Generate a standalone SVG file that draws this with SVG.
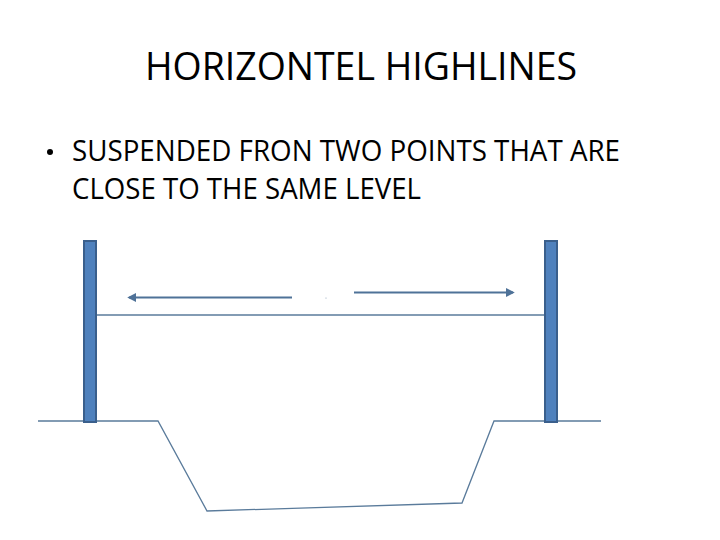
<svg xmlns="http://www.w3.org/2000/svg" width="720" height="540" viewBox="0 0 720 540">
<style>
.t{font-family:"Open Sans","Liberation Sans",sans-serif;fill:#000}
.pole{fill:#4f81bd;stroke:#3a5f8c;stroke-width:2}
.ln{fill:none;stroke:#5a7b9b;stroke-width:1.3}
.ar{fill:none;stroke:#4f7298;stroke-width:2.2}
</style>
<defs>
<marker id="ah" viewBox="0 0 10 10" refX="8" refY="5" markerWidth="4" markerHeight="4" orient="auto">
<path d="M0,0 L10,5 L0,10 z" fill="#4f7298"/>
</marker>
</defs>
<rect width="720" height="540" fill="#fff"/>
<text class="t" x="361" y="80" font-size="39" text-anchor="middle" textLength="432" lengthAdjust="spacingAndGlyphs">HORIZONTEL HIGHLINES</text>
<g id="bullet">
<circle cx="50" cy="152" r="3" fill="#000"/>
<text class="t" x="72" y="161" font-size="28.5" textLength="548" lengthAdjust="spacingAndGlyphs">SUSPENDED FRON TWO POINTS THAT ARE</text>
<text class="t" x="72" y="199" font-size="28.5" textLength="349" lengthAdjust="spacingAndGlyphs">CLOSE TO THE SAME LEVEL</text>
</g>
<g id="ground">
<polyline class="ln" points="38,421 158,421 207,511 462,503 494,421 601,421"/>
</g>
<g id="rope">
<line class="ln" x1="96" y1="315" x2="544" y2="315"/>
</g>
<g id="left-pole">
<rect class="pole" x="84" y="241" width="12" height="181"/>
</g>
<g id="right-pole">
<rect class="pole" x="545" y="241" width="12" height="181"/>
</g>
<g id="connectors">
<line class="ar" x1="292" y1="297.5" x2="129" y2="297.5" marker-end="url(#ah)"/>
<line class="ar" x1="354" y1="292.5" x2="513" y2="292.5" marker-end="url(#ah)"/>
<circle cx="326" cy="298" r="0.6" fill="#8aa0b8"/>
</g>
</svg>
